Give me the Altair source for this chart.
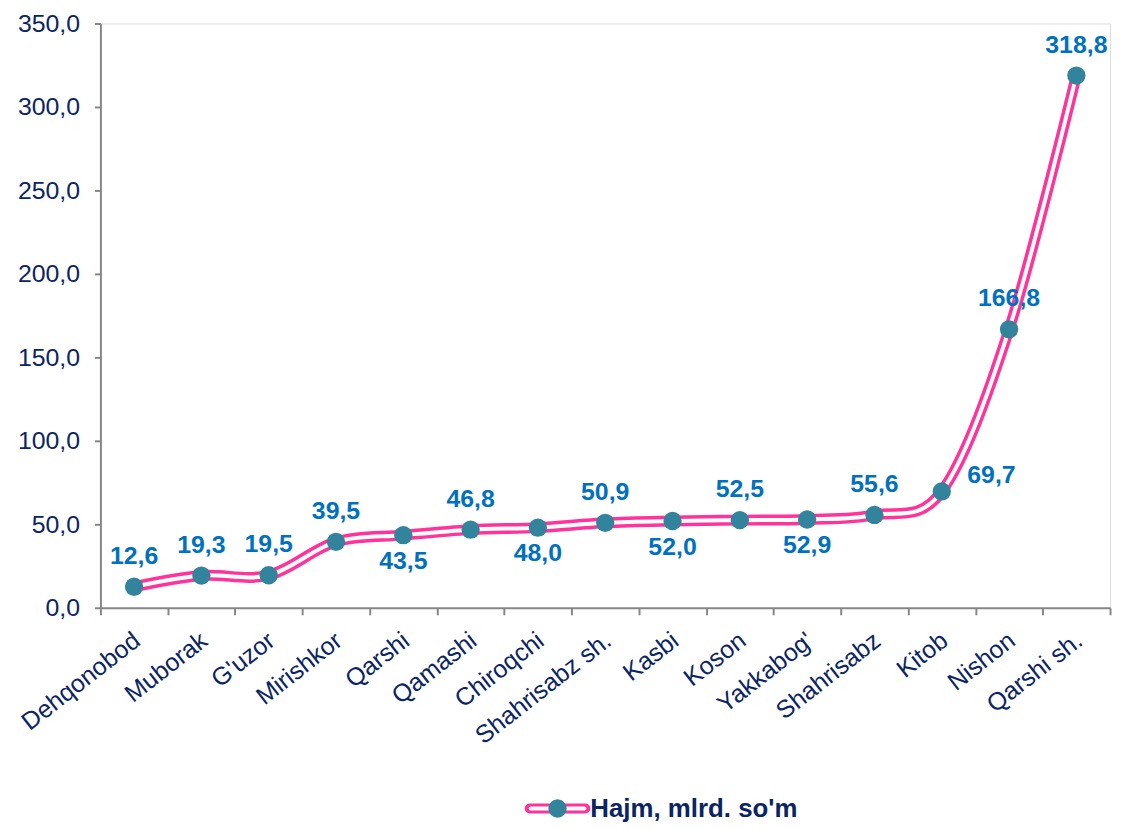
import altair as alt
import pandas as pd

categories = ["Dehqonobod", "Muborak", "G'uzor", "Mirishkor", "Qarshi", "Qamashi",
              "Chiroqchi", "Shahrisabz sh.", "Kasbi", "Koson", "Yakkabog'",
              "Shahrisabz", "Kitob", "Nishon", "Qarshi sh."]
values = [12.6, 19.3, 19.5, 39.5, 43.5, 46.8, 48.0, 50.9, 52.0, 52.5, 52.9,
          55.6, 69.7, 166.8, 318.8]
series_name = "Hajm, mlrd. so'm"
labels_below = ["Qarshi", "Chiroqchi", "Kasbi", "Yakkabog'"]
labels_right = ["Kitob"]
y_ticks = [0, 50, 100, 150, 200, 250, 300, 350]

df = pd.DataFrame({
    "cat": categories,
    "val": values,
    "lbl": [f"{v:.1f}".replace(".", ",") for v in values],
})

FONT = "Liberation Sans"
NAVY = "#0B2463"
PINK = "#FF3399"
TEAL = "#31849B"
LBLUE = "#0070C0"
GRAY = "#868686"

x = alt.X("cat:N", sort=categories, title=None,
          scale=alt.Scale(paddingInner=0, paddingOuter=0),
          axis=alt.Axis(labelAngle=-38, labelAlign="right", labelBaseline="top",
                        labelFont=FONT, labelFontSize=25, labelColor=NAVY,
                        labelPadding=13, labelOffset=-5, tickBand="extent",
                        tickSize=7, tickColor=GRAY, domainColor=GRAY,
                        tickWidth=2, domainWidth=2, grid=False,
                        labelOverlap=False))
y = alt.Y("val:Q", title=None,
          scale=alt.Scale(domain=[0, 350], nice=False, zero=True),
          axis=alt.Axis(values=y_ticks,
                        labelExpr="replace(format(datum.value, '.1f'), '.', ',')",
                        labelFont=FONT, labelFontSize=25, labelColor=NAVY,
                        labelPadding=15, tickSize=6, tickColor=GRAY,
                        domainColor=GRAY, tickWidth=2, domainWidth=2,
                        grid=False))

base = alt.Chart(df).encode(x=x, y=y)

outer = base.mark_line(color=PINK, strokeWidth=11, interpolate="cardinal")
inner = base.mark_line(color="white", strokeWidth=4, interpolate="cardinal")
pts = base.mark_point(filled=True, size=340, color=TEAL, opacity=1)

txt_style = dict(font=FONT, fontSize=25, fontWeight="bold", color=LBLUE)

lab_above = base.transform_filter(
    ~alt.FieldOneOfPredicate(field="cat", oneOf=labels_below + labels_right)
).mark_text(dy=-31, **txt_style).encode(text="lbl:N")
lab_below = base.transform_filter(
    alt.FieldOneOfPredicate(field="cat", oneOf=labels_below)
).mark_text(dy=26, **txt_style).encode(text="lbl:N")
lab_right = base.transform_filter(
    alt.FieldOneOfPredicate(field="cat", oneOf=labels_right)
).mark_text(dx=50, dy=-16, **txt_style).encode(text="lbl:N")

leg_df = pd.DataFrame({"name": [series_name]})
leg = alt.Chart(leg_df)
leg_outer = leg.mark_rule(color=PINK, strokeWidth=10, strokeCap="round").encode(
    x=alt.value(432), x2=alt.value(488), y=alt.value(790))
leg_inner = leg.mark_rule(color="white", strokeWidth=4, strokeCap="round").encode(
    x=alt.value(433), x2=alt.value(487), y=alt.value(790))
leg_pt = leg.mark_point(filled=True, size=340, color=TEAL, opacity=1).encode(
    x=alt.value(460), y=alt.value(790))
leg_txt = leg.mark_text(font=FONT, fontSize=26, fontWeight="bold", color=NAVY,
                        align="left", baseline="middle").encode(
    x=alt.value(493), y=alt.value(791), text="name:N")

chart = alt.layer(outer, inner, pts, lab_above, lab_below, lab_right,
                  leg_outer, leg_inner, leg_pt, leg_txt).properties(
    width=1016, height=588,
    autosize=alt.AutoSizeParams(type="none"),
    padding={"left": 93, "top": 13, "right": 4, "bottom": 214},
).configure_view(stroke=None).configure(background="white")

chart.save("out.html", embed_options={"renderer": "svg", "actions": False})
